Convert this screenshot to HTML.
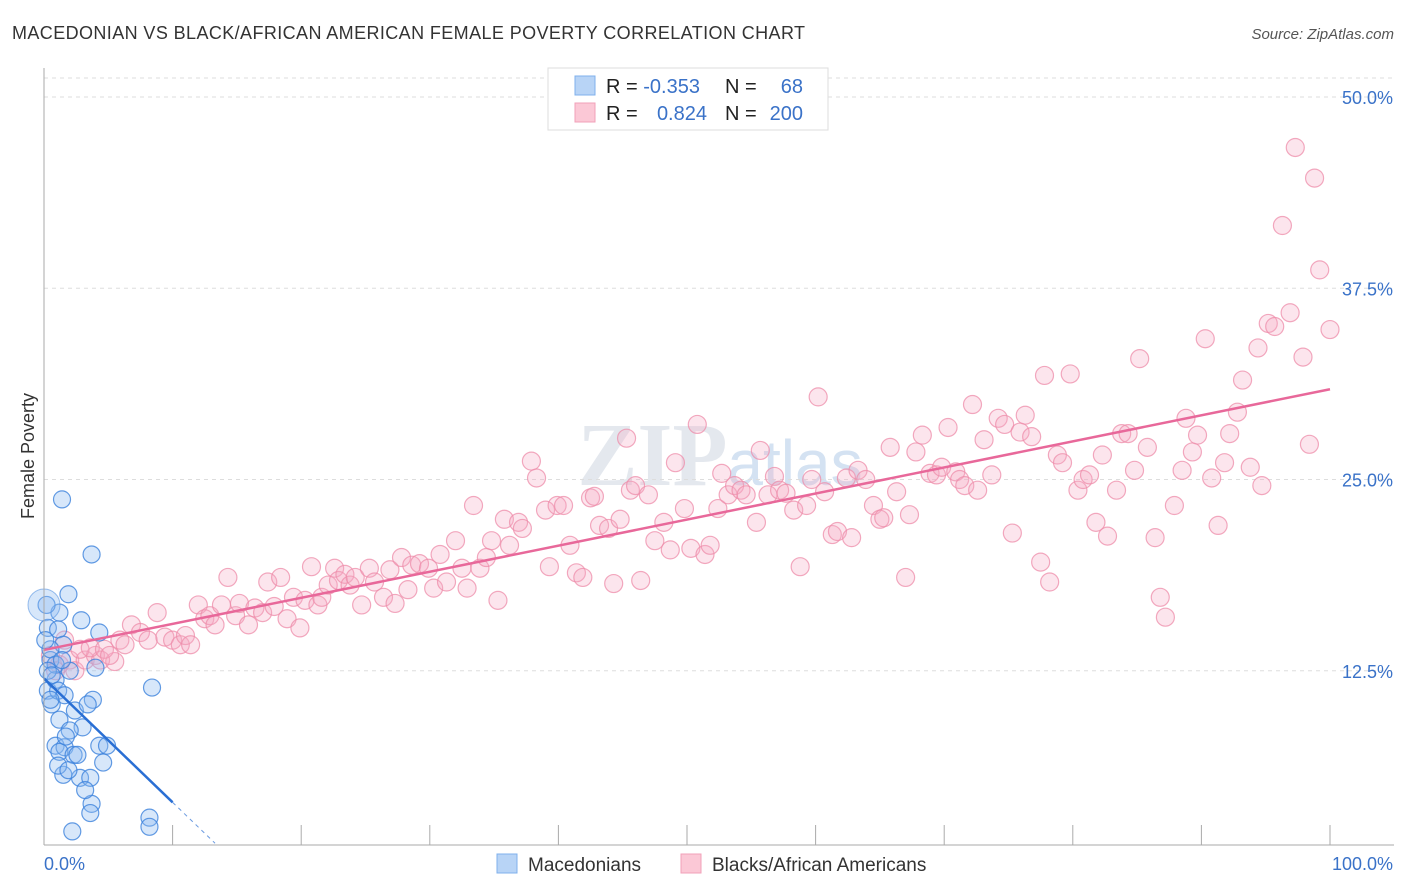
<!DOCTYPE html>
<html><head><meta charset="utf-8">
<style>
body{margin:0;background:#fff;font-family:"Liberation Sans",sans-serif;}
#wrap{position:relative;width:1406px;height:892px;overflow:hidden;}
</style></head>
<body>
<div id="wrap">
<svg id="svg" width="1406" height="892" xmlns="http://www.w3.org/2000/svg">
<text x="12" y="39" font-size="18" fill="#333" letter-spacing="0.4">MACEDONIAN VS BLACK/AFRICAN AMERICAN FEMALE POVERTY CORRELATION CHART</text>
<text x="1394" y="39" font-size="15" fill="#555" font-style="italic" text-anchor="end">Source: ZipAtlas.com</text>
<text x="34" y="456" font-size="18" fill="#333" text-anchor="middle" transform="rotate(-90 34 456)">Female Poverty</text>
<text x="720" y="485" font-size="90" fill="#e4e8ee" text-anchor="middle" font-family="Liberation Serif,serif" font-weight="bold">ZIP<tspan font-family="Liberation Sans,sans-serif" font-weight="normal" font-size="64" fill="#d4e2f2">atlas</tspan></text>
<g id="grid"></g>
<g id="pts"></g>
<g id="lines"></g>
<g id="axes"></g>
<g>
<rect x="548" y="68" width="280" height="62" fill="#fff" stroke="#ddd"/>
<rect x="575" y="76" width="20" height="19" fill="#b8d4f6" stroke="#7fb0ec"/>
<rect x="575" y="103" width="20" height="19" fill="#fbc8d6" stroke="#f2a0b8"/>
<text x="606" y="93" font-size="20" fill="#222">R = <tspan fill="#3a72c8">-0.353</tspan></text>
<text x="725" y="93" font-size="20" fill="#222">N = </text>
<text x="803" y="93" font-size="20" fill="#3a72c8" text-anchor="end">68</text>
<text x="606" y="120" font-size="20" fill="#222">R = </text>
<text x="707" y="120" font-size="20" fill="#3a72c8" text-anchor="end">0.824</text>
<text x="725" y="120" font-size="20" fill="#222">N = </text>
<text x="803" y="120" font-size="20" fill="#3a72c8" text-anchor="end">200</text>
</g>
<g>
<rect x="497" y="854" width="20" height="19" fill="#b8d4f6" stroke="#7fb0ec"/>
<text x="528" y="871" font-size="19" fill="#333">Macedonians</text>
<rect x="681" y="854" width="20" height="19" fill="#fbc8d6" stroke="#f2a0b8"/>
<text x="712" y="871" font-size="19" fill="#333">Blacks/African Americans</text>
</g>
</svg>
</div>
<script>
const yTicks=[12.5,25,37.5,50];
const yTickLabels=["12.5%","25.0%","37.5%","50.0%"];
const xEndLabels=["0.0%","100.0%"];
const blueX=[1.4,3.7,1.9,1.2,2.9,0.2,0.3,1.1,4.3,1.5,0.5,4.0,8.4,3.8,0.3,0.9,0.6,1.2,2.4,3.4,3.0,2.0,0.9,1.6,4.3,4.9,1.2,2.3,2.6,4.6,1.5,2.8,3.6,3.7,3.6,8.2,8.2,2.2,0.5,0.9,0.3,0.6,1.1,1.6,0.5,2.0,1.4,0.1,1.7,1.1,1.9,3.2];
const blueY=[23.7,20.1,17.5,16.3,15.8,16.8,15.3,15.2,15.0,14.2,13.2,12.7,11.4,10.6,11.2,11.9,10.3,9.3,9.9,10.3,8.8,8.6,7.6,7.5,7.6,7.6,7.2,7.0,7.0,6.5,5.7,5.5,5.5,3.8,3.2,2.9,2.3,2.0,13.9,12.9,12.5,12.2,11.2,10.9,10.6,12.5,13.2,14.5,8.2,6.3,6.0,4.7];
const pinkX=[0.5,1.2,2.0,2.4,3.2,4.0,4.4,5.5,1.6,2.8,3.6,4.7,0.9,5.1,5.9,6.3,6.8,7.5,8.1,8.8,9.4,10.0,10.6,11.0,11.4,12.0,12.5,12.9,13.3,13.8,14.3,14.9,15.2,15.9,16.4,17.0,17.4,17.9,18.4,18.9,19.4,19.9,20.3,20.8,21.3,21.6,22.1,22.6,22.9,23.4,23.8,24.2,24.7,25.3,25.7,26.4,26.9,27.3,27.8,28.3,28.6,29.2,29.9,30.3,30.8,31.3,32.0,32.5,32.9,33.4,33.9,34.4,34.8,35.3,35.8,36.2,36.9,37.2,37.9,38.3,39.0,39.3,39.9,40.4,40.9,41.4,41.9,42.5,42.8,43.2,43.9,44.3,44.8,45.3,45.6,46.0,46.4,47.0,47.5,48.2,48.7,49.1,49.8,50.3,50.8,51.4,51.8,52.4,52.7,53.2,53.7,54.2,54.6,55.4,55.7,56.3,56.8,57.2,57.7,58.3,58.8,59.3,59.7,60.2,60.7,61.3,61.7,62.4,62.8,63.3,63.9,64.5,65.0,65.3,65.8,66.3,67.0,67.3,67.8,68.3,68.9,69.4,69.8,70.3,70.9,71.2,71.6,72.2,72.6,73.1,73.7,74.2,74.7,75.3,75.9,76.3,76.8,77.5,77.8,78.2,78.8,79.2,79.8,80.4,80.8,81.3,81.8,82.3,82.7,83.4,83.8,84.3,84.8,85.2,85.8,86.4,86.8,87.2,87.9,88.5,88.8,89.3,89.7,90.3,90.8,91.3,91.8,92.2,92.8,93.2,93.8,94.4,94.7,95.2,95.7,96.3,96.9,97.3,97.9,98.4,98.8,99.2,100.0];
const pinkY=[13.5,12.9,13.2,12.5,13.2,13.5,13.2,13.1,14.5,13.9,14.0,13.9,12.5,13.5,14.5,14.2,15.5,15.0,14.5,16.3,14.7,14.5,14.2,14.8,14.2,16.8,15.9,16.1,15.5,16.8,18.6,16.1,16.9,15.5,16.6,16.3,18.3,16.7,18.6,15.9,17.3,15.3,17.1,19.3,16.8,17.3,18.1,19.2,18.4,18.8,18.1,18.6,16.8,19.2,18.3,17.3,19.1,16.9,19.9,17.8,19.4,19.5,19.2,17.9,20.1,18.3,21.0,19.2,17.9,23.3,19.2,19.9,21.0,17.1,22.4,20.7,22.2,21.8,26.2,25.1,23.0,19.3,23.3,23.3,20.7,18.9,18.6,23.8,23.9,22.0,21.8,18.2,22.4,27.7,24.3,24.6,18.4,24.0,21.0,22.2,20.4,26.1,23.1,20.5,28.6,20.1,20.7,23.1,25.4,24.0,24.6,24.3,24.0,22.2,26.9,24.0,25.2,24.3,24.1,23.0,19.3,23.3,25.0,30.4,24.2,21.4,21.6,25.1,21.2,25.6,25.0,23.3,22.4,22.5,27.1,24.2,18.6,22.7,26.8,27.9,25.4,25.3,25.8,28.4,25.5,25.0,24.6,29.9,24.3,27.6,25.3,29.0,28.6,21.5,28.1,29.2,27.8,19.6,31.8,18.3,26.6,26.1,31.9,24.3,25.0,25.3,22.2,26.6,21.3,24.3,28.0,28.0,25.6,32.9,27.1,21.2,17.3,16.0,23.3,25.6,29.0,26.8,27.9,34.2,25.1,22.0,26.1,28.0,29.4,31.5,25.8,33.6,24.6,35.2,35.0,41.6,35.9,46.7,33.0,27.3,44.7,38.7,34.8];
const pinkFit=[13.86,30.9];
const blueFit=[12.0,-0.81];

const NS="http://www.w3.org/2000/svg";
const X0=44,X1=1330,YB=862,YT=97;
function sx(v){return X0+(X1-X0)*v/100;}
function sy(v){return YB-(YB-YT)*v/50;}
function mk(tag,attrs,parent){const e=document.createElementNS(NS,tag);for(const k in attrs)e.setAttribute(k,attrs[k]);parent.appendChild(e);return e;}
const grid=document.getElementById('grid'),pts=document.getElementById('pts'),lines=document.getElementById('lines'),axes=document.getElementById('axes');
mk('line',{x1:X0,x2:1394,y1:78,y2:78,stroke:'#ddd','stroke-dasharray':'4 4'},grid);
yTicks.forEach((t,i)=>{
  const g=mk('line',{x1:X0,x2:1394,y1:sy(t),y2:sy(t),stroke:'#ddd','stroke-dasharray':'4 4'},grid);
  
  
  const l=mk('text',{x:1393,y:sy(t)+7,'font-size':18,fill:'#3a72c8','text-anchor':'end'},axes);
  l.textContent=yTickLabels[i];
  
  
});
mk('line',{x1:X0,x2:X0,y1:68,y2:845,stroke:'#aaa'},axes);
mk('line',{x1:X0,x2:1394,y1:845,y2:845,stroke:'#aaa'},axes);
for(let i=1;i<=10;i++){const t=mk('line',{x1:sx(i*10),x2:sx(i*10),y1:825,y2:845,stroke:'#aaa'},axes);
  
  }
const xl0=mk('text',{x:44,y:870,'font-size':18,fill:'#3a72c8'},axes);xl0.textContent=xEndLabels[0];


const xl1=mk('text',{x:1393,y:870,'font-size':18,fill:'#3a72c8','text-anchor':'end'},axes);xl1.textContent=xEndLabels[1];


pinkX.forEach((x,i)=>{const c=mk('circle',{cx:sx(x),cy:sy(pinkY[i]),r:9,fill:'rgba(246,170,195,0.3)',stroke:'rgba(238,140,170,0.75)','stroke-width':1.2},pts);
  
  });
blueX.forEach((x,i)=>{const c=mk('circle',{cx:sx(x),cy:sy(blueY[i]),r:8.5,fill:'rgba(140,185,240,0.35)',stroke:'rgba(60,130,220,0.8)','stroke-width':1.2},pts);
  
  });
const big=mk('circle',{cx:sx(0),cy:sy(16.8),r:16,fill:'rgba(140,185,240,0.35)',stroke:'rgba(60,130,220,0.5)'},pts);


const pl=mk('line',{x1:sx(0),y1:sy(pinkFit[0]),x2:sx(100),y2:sy(pinkFit[1]),stroke:'#e8689a','stroke-width':2.5},lines);


const bl=mk('line',{x1:sx(0),y1:sy(blueFit[0]),x2:sx(10),y2:sy(blueFit[0]+blueFit[1]*10),stroke:'#2a6fd4','stroke-width':2.5},lines);


const bd=mk('line',{x1:sx(10),y1:sy(blueFit[0]+blueFit[1]*10),x2:sx(13.3),y2:sy(blueFit[0]+blueFit[1]*13.3),stroke:'#6a9ae0','stroke-width':1,'stroke-dasharray':'4 4'},lines);


</script>
</body></html>
